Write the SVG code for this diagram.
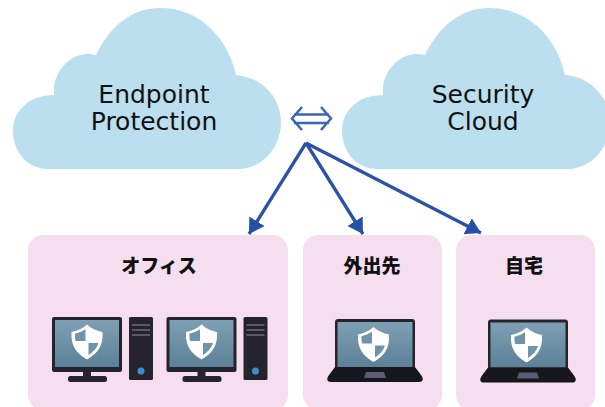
<svg xmlns="http://www.w3.org/2000/svg" width="605" height="407" viewBox="0 0 605 407">
<style>
.cloud{fill:#bcdff0}
.panel{fill:#f5dfee}
.lbl{font-family:"DejaVu Sans",sans-serif;font-size:25px;fill:#111;text-anchor:middle}
.ttl{font-family:"Noto Sans CJK JP",sans-serif;font-size:19px;font-weight:900;fill:#111;text-anchor:middle}
.conn{stroke:#2a52a8;stroke-width:3.300;fill:none}
.dbl{stroke:#3a66b4;stroke-width:2.500;fill:none}
.dark{fill:#25242c}
</style>
<defs>
<linearGradient id="scr" x1="0" y1="0" x2="0" y2="1"><stop offset="0" stop-color="#7fa0b4"/><stop offset="1" stop-color="#5b8097"/></linearGradient>
<marker id="ah" markerUnits="userSpaceOnUse" markerWidth="22" markerHeight="22" refX="15" refY="10" orient="auto"><path d="M0 1L15 10L0 19Z" fill="#2450a8"/></marker>
<path id="cl" d="M48 169C26 169 13 150 13 131C13 110 30 95 54 95C52 72 70 54 87 54C90 54 93 54 96 55C110 26 132 8 160 8C200 8 228 38 236 75C262 77 281 98 281 122C281 148 262 169 238 169Z"/>
<g id="shield">
<path d="M0 -17.500C5 -13 10 -11 15.500 -10C16.500 4 10 12 0 17.500C-10 12 -16.500 4 -15.500 -10C-10 -11 -5 -13 0 -17.500Z" fill="#fff"/>
<path d="M-1.500 -12.800C-5 -10.500 -8 -9.500 -12 -8.300C-12.200 -5 -12 -2.500 -11.200 -1L-1.500 -1ZM1.500 1L11.500 1C10 6 6.500 10 1.500 13Z" fill="#6f93a9"/>
</g>
<g id="desk">
<rect x="52" y="317" width="70" height="55" rx="2" class="dark"/>
<rect x="55" y="320" width="64" height="47" fill="url(#scr)"/>
<rect x="83" y="372" width="8" height="6" class="dark"/>
<rect x="68" y="376" width="39" height="6" rx="2.500" class="dark"/>
<rect x="129" y="317" width="24" height="63" rx="1.500" class="dark"/>
<path d="M132 325H150M132 330H150M132 335H150" stroke="#8d8d95" stroke-width="1.200" fill="none"/>
<circle cx="141" cy="371" r="3.500" fill="#3a8ed0"/>
<use href="#shield" x="87" y="342"/>
</g>
<g id="lap">
<rect x="335" y="319" width="80" height="50" rx="3" class="dark"/>
<rect x="337.500" y="322" width="75" height="45" fill="url(#scr)"/>
<path d="M335 367H415L421 375C424 379 423 382 419 382H331C327 382 326 379 329 375Z" fill="#17161c"/>
<path d="M366 372H384L386 378H364Z" fill="#5f5a72"/>
<use href="#shield" x="373.500" y="344.500"/>
</g>
</defs>
<g id="connectors">
<path class="conn" d="M306 143L249 234" marker-end="url(#ah)"/>
<path class="conn" d="M306 143L363 234" marker-end="url(#ah)"/>
<path class="conn" d="M306 143L481 233" marker-end="url(#ah)"/>
<path class="dbl" d="M294 114.500H329M294 123H329M302 107L292 118.500L302 130M321 107L331 118.500L321 130"/>
</g>
<g id="endpoint-cloud"><use href="#cl" class="cloud"/><text class="lbl" x="154" y="103">Endpoint</text><text class="lbl" x="154" y="130">Protection</text></g>
<g id="security-cloud"><use href="#cl" x="329" class="cloud"/><text class="lbl" x="483" y="103">Security</text><text class="lbl" x="483" y="130">Cloud</text></g>
<g id="office"><rect class="panel" x="28" y="235" width="260" height="175" rx="15"/><text class="ttl" x="159" y="273">オフィス</text><use href="#desk"/><use href="#desk" x="114.500"/></g>
<g id="outside"><rect class="panel" x="303" y="235" width="139" height="175" rx="15"/><text class="ttl" x="372" y="273">外出先</text><use href="#lap"/></g>
<g id="home"><rect class="panel" x="456" y="235" width="139" height="175" rx="15"/><text class="ttl" x="524" y="273">自宅</text><use href="#lap" x="153" y="0.500"/></g>
</svg>
